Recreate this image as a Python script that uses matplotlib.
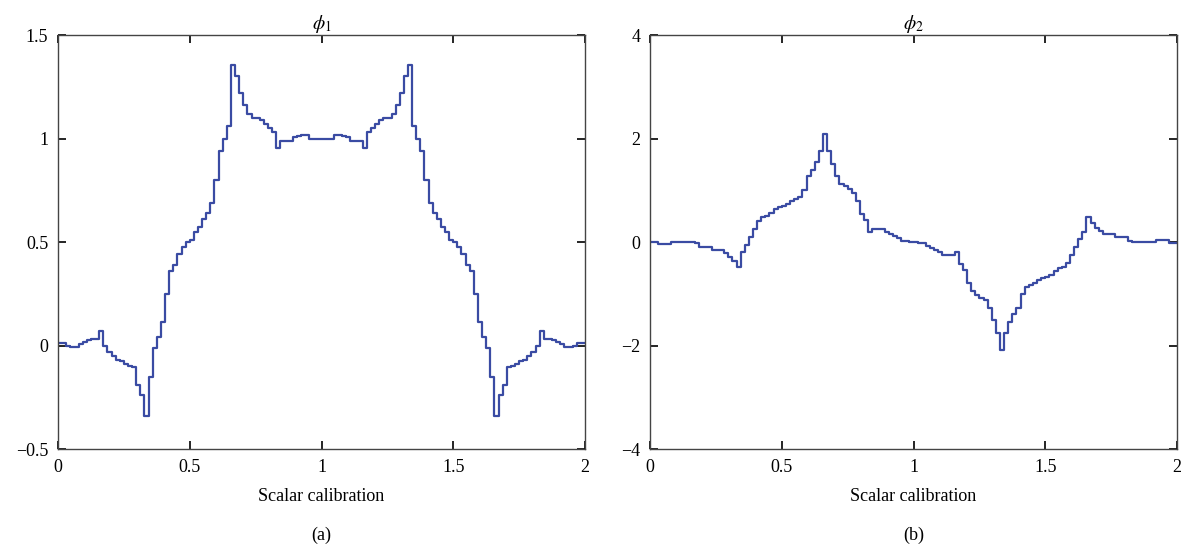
import numpy as np
import matplotlib
matplotlib.use("Agg")
import matplotlib.pyplot as plt

plt.rcParams['font.family'] = ['Liberation Serif', 'DejaVu Serif']
plt.rcParams['mathtext.fontset'] = 'stix'

# step samples on [0, 2], 128 intervals of width 1/64
n_steps = 128
phi1_values = [
    0.01, 0.01, 0.0, -0.005, -0.005, 0.005, 0.015, 0.025, 0.03, 0.03,
    0.07, 0.0, -0.03, -0.05, -0.07, -0.075, -0.09, -0.10, -0.105, -0.19,
    -0.24, -0.34, -0.15, -0.01, 0.04, 0.115, 0.25, 0.36, 0.39, 0.44,
    0.475, 0.50, 0.51, 0.55, 0.575, 0.61, 0.64, 0.69, 0.80, 0.94,
    1.00, 1.06, 1.355, 1.30, 1.22, 1.16, 1.12, 1.10, 1.10, 1.09,
    1.07, 1.05, 1.03, 0.955, 0.99, 0.99, 0.99, 1.005, 1.01, 1.015,
    1.015, 1.0, 1.0, 1.0,
    1.0, 1.0, 1.0, 1.015, 1.015, 1.01, 1.005, 0.99, 0.99, 0.99,
    0.955, 1.03, 1.05, 1.07, 1.09, 1.10, 1.10, 1.12, 1.16, 1.22,
    1.30, 1.355, 1.06, 1.00, 0.94, 0.80, 0.69, 0.64, 0.61, 0.575,
    0.55, 0.51, 0.50, 0.475, 0.44, 0.39, 0.36, 0.25, 0.115, 0.04,
    -0.01, -0.15, -0.34, -0.24, -0.19, -0.105, -0.10, -0.09, -0.075, -0.07,
    -0.05, -0.03, 0.0, 0.07, 0.03, 0.03, 0.025, 0.015, 0.005, -0.005,
    -0.005, 0.0, 0.01, 0.01,
]
phi2_values = [
    0.01, 0.01, -0.04, -0.045, -0.045, 0.0, 0.005, 0.005, 0.005, 0.005,
    0.005, -0.02, -0.09, -0.09, -0.09, -0.155, -0.155, -0.155, -0.21, -0.28,
    -0.36, -0.48, -0.20, -0.05, 0.10, 0.25, 0.40, 0.48, 0.51, 0.56,
    0.63, 0.67, 0.69, 0.74, 0.80, 0.84, 0.87, 1.00, 1.27, 1.39,
    1.55, 1.75, 2.08, 1.75, 1.50, 1.28, 1.12, 1.08, 1.02, 0.94,
    0.80, 0.55, 0.42, 0.20, 0.245, 0.245, 0.245, 0.20, 0.15, 0.12,
    0.07, 0.02, 0.02, 0.0,
    0.0, -0.02, -0.02, -0.07, -0.12, -0.15, -0.20, -0.245, -0.245, -0.245,
    -0.20, -0.42, -0.55, -0.80, -0.94, -1.02, -1.08, -1.12, -1.28, -1.50,
    -1.75, -2.08, -1.75, -1.55, -1.39, -1.27, -1.00, -0.87, -0.84, -0.80,
    -0.74, -0.69, -0.67, -0.63, -0.56, -0.51, -0.48, -0.40, -0.25, -0.10,
    0.05, 0.20, 0.48, 0.36, 0.28, 0.21, 0.155, 0.155, 0.155, 0.09,
    0.09, 0.09, 0.02, -0.005, -0.005, -0.005, -0.005, -0.005, 0.0, 0.045,
    0.045, 0.04, -0.01, -0.01,
]
titles = [r'$\phi_1$', r'$\phi_2$']
xlabel = 'Scalar calibration'
panel_labels = ['(a)', '(b)']
x_ticks = [0, 0.5, 1, 1.5, 2]
x_ticklabels = ['0', '0.5', '1', '1.5', '2']
y_ticks = [[-0.5, 0, 0.5, 1, 1.5], [-4, -2, 0, 2, 4]]
y_ticklabels = [['\u22120.5', '0', '0.5', '1', '1.5'], ['\u22124', '\u22122', '0', '2', '4']]
y_limits = [(-0.5, 1.5), (-4, 4)]

line_color = '#3a4ba3'

fig = plt.figure(figsize=(11.91, 5.5), dpi=100)
axes_pos = [[0.0487, 0.1836, 0.4425, 0.7527], [0.5458, 0.1836, 0.4425, 0.7527]]
x = np.arange(n_steps + 1) / 64.0
series = [phi1_values, phi2_values]

for k in range(2):
    ax = fig.add_axes(axes_pos[k])
    y = list(series[k]) + [series[k][-1]]
    ax.plot(x, y, drawstyle='steps-post', color=line_color, lw=1.6)
    ax.set_xlim(0, 2)
    ax.set_ylim(*y_limits[k])
    ax.set_xticks(x_ticks)
    ax.set_xticklabels(x_ticklabels)
    ax.set_yticks(y_ticks[k])
    ax.set_yticklabels(y_ticklabels[k])
    ax.tick_params(direction='in', top=True, right=True, length=6, width=1.2,
                   labelsize=13, pad=7, colors='black')
    for s in ax.spines.values():
        s.set_color('#444444')
        s.set_linewidth(1.0)
    ax.set_title(titles[k], fontsize=14, pad=4)
    ax.set_xlabel(xlabel, fontsize=13, labelpad=9)
    ax.text(0.5, -0.208, panel_labels[k], transform=ax.transAxes,
            ha='center', va='center', fontsize=13)

fig.savefig('out.png', dpi=100)
